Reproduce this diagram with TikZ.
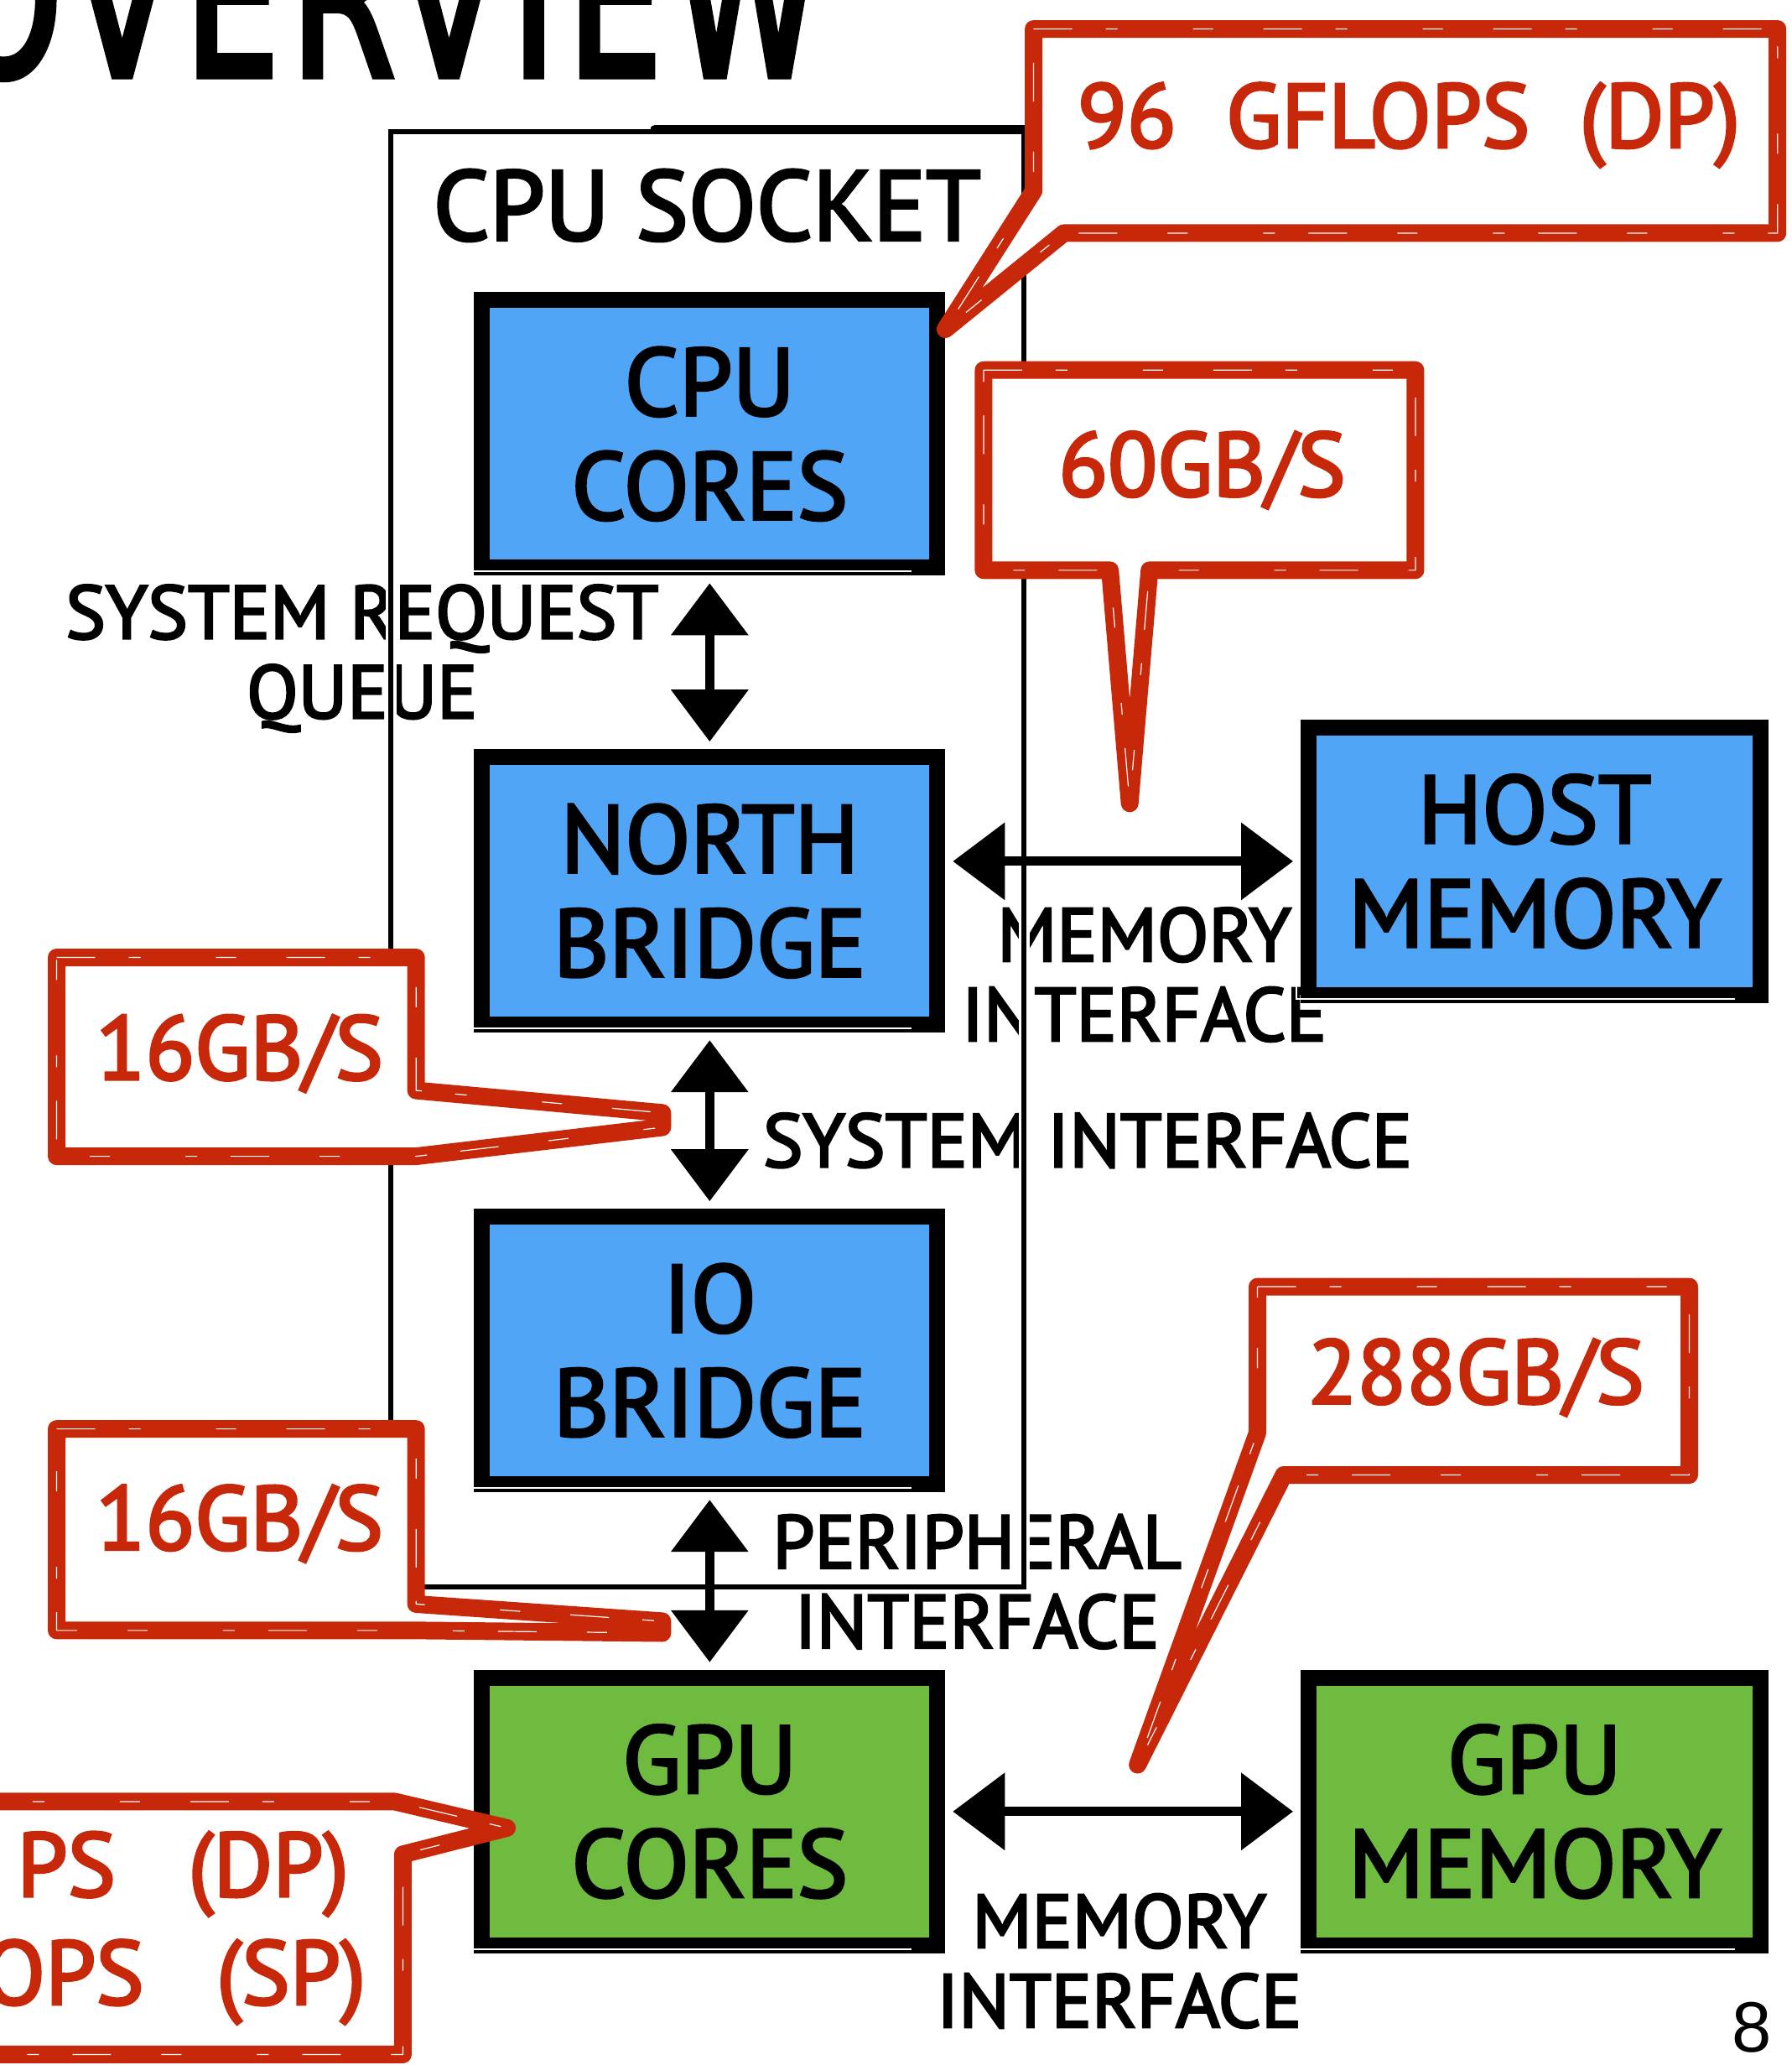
\documentclass[tikz,border=0pt]{standalone}
\usepackage{fontspec}
\usepackage{graphicx}
\setmainfont{PT Sans}[FakeBold=3]
\newfontfamily\titlefont{DejaVu Sans}[FakeBold=4,LetterSpace=8]
\newfontfamily\pagefont{Liberation Sans}
\usetikzlibrary{arrows.meta}

\definecolor{boxblue}{RGB}{80,165,247}
\definecolor{boxgreen}{RGB}{111,187,64}
\definecolor{callred}{RGB}{200,40,10}

% thin white streaks inside a block frame, for a hand-inked look
\newcommand\inkstreak[1]{%
  \draw[white,line width=1.8pt]
    ([shift={(-5pt,-14pt)}]#1.north west) -- ([shift={(-5pt,5pt)}]#1.south west)
    -- ([shift={(-40pt,5pt)}]#1.south east);}

\begin{document}
\begin{tikzpicture}[x=1.5702pt, y=-1.5702pt,
  block/.style={draw=black, line width=19pt, inner sep=0pt,
    minimum width=543pt, minimum height=319pt, align=center,
    font=\fontsize{114pt}{124pt}\selectfont},
  cpuside/.style={block, fill=boxblue},
  gpuside/.style={block, fill=boxgreen},
  lab/.style={inner sep=0pt, align=center, font=\fontsize{90pt}{95pt}\selectfont},
  redlab/.style={inner sep=0pt, text=callred, font=\fontsize{108pt}{126pt}\selectfont},
  callout/.style={draw=callred, fill=white, line width=21pt, line join=round,
    postaction={draw=white, line width=1.2pt,
      dash pattern=on 46pt off 40pt on 14pt off 90pt on 24pt off 60pt}},
  biarrow/.style={line width=11pt,
    {Triangle[length=62pt,width=90pt]}-{Triangle[length=62pt,width=90pt]},
    shorten <=9pt, shorten >=9pt},
]
\useasboundingbox (0,0) rectangle (1361,1568);
\clip (0,0) rectangle (1361,1568);

% slide title
\node[anchor=base west, inner sep=0pt] (title) at (-42,57)
  {\resizebox{1043pt}{190pt}{\titlefont OVERVIEW}};

% interface labels
\node[lab] (lsrq)  at (275,500)  {SYSTEM REQUEST\\QUEUE};
\node[lab] (lmem1) at (869,740)  {MEMORY\\INTERFACE};
\node[lab] (lsys)  at (826,866)  {SYSTEM INTERFACE};
\node[lab] (lper)  at (742,1201) {PERIPHERAL\\INTERFACE};
\node[lab] (lmem2) at (850,1489) {MEMORY\\INTERFACE};

% CPU socket outline
\node[draw=black, line width=6pt, inner sep=0pt,
      minimum width=755pt, minimum height=1735pt,
      preaction={draw=white, line width=13pt}] (socket) at (537.5,652.5) {};
\draw[line width=11pt, line cap=round] (socket.north) ++(-40,0) -- (socket.north east);
\node[inner sep=0pt, font=\fontsize{118pt}{120pt}\selectfont] (lsock) at (537,156) {CPU SOCKET};

% blocks
\node[cpuside] (cpu)  at (539,329.5)  {CPU\\CORES};
\node[cpuside] (nb)   at (539,676.5)  {NORTH\\BRIDGE};
\node[cpuside] (io)   at (539,1025.5) {IO\\BRIDGE};
\node[cpuside, minimum width=539pt] (host) at (1165.5,654) {HOST\\MEMORY};
\node[gpuside] (gpu)  at (539,1375.5) {GPU\\CORES};
\node[gpuside, minimum width=539pt] (gmem) at (1165.5,1375.5) {GPU\\MEMORY};
\foreach \b in {cpu,nb,io,host,gpu,gmem} {\inkstreak{\b}}

% connections
\draw[biarrow] (cpu.south) -- (nb.north);
\draw[biarrow] (nb.south) -- (io.north);
\draw[biarrow] (io.south) -- (gpu.north);
\draw[biarrow] (host.west -| nb.east) -- (host.west);
\draw[biarrow] (gpu.east) -- (gmem.west);

% performance callouts
\draw[callout] (785,22) -- (1350,22) -- (1350,177) -- (808,177) -- (718,250) -- (785,145) -- cycle;
\draw[callout] (747,281) -- (1075,281) -- (1075,433) -- (873,433) -- (858,610) -- (843,433) -- (747,433) -- cycle;
\draw[callout] (43,727) -- (316,727) -- (316,828) -- (503,845) -- (503,856) -- (316,878) -- (43,878) -- cycle;
\draw[callout] (43,1085) -- (316,1085) -- (316,1218) -- (503,1231) -- (503,1240) -- (316,1238) -- (43,1238) -- cycle;
\draw[callout] (955,977) -- (1283,977) -- (1283,1120) -- (975,1120) -- (864,1340) -- (955,1088) -- cycle;
\draw[callout] (-30,1368) -- (300,1368) -- (385,1388) -- (306,1408) -- (306,1560) -- (-30,1560) -- cycle;

\node[redlab] (rgflops) at (1070,95)   {96\hspace{0.55em}GFLOPS\hspace{0.55em}(DP)};
\node[redlab] (rhost)   at (913,357)   {60GB/S};
\node[redlab] (rsys)    at (182,800)   {16GB/S};
\node[redlab] (rper)    at (182,1157)  {16GB/S};
\node[redlab] (rgmem)   at (1121,1046) {288GB/S};
\node[redlab, anchor=east] (rdp) at (265,1423) {PS\hspace{0.8em}(DP)};
\node[redlab, anchor=east] (rsp) at (278,1505) {OPS\hspace{0.8em}(SP)};

% page number
\node[anchor=base east, inner sep=0pt, font=\pagefont\fontsize{85pt}{90pt}\selectfont]
  (pnum) at (1346,1558) {8};
\end{tikzpicture}
\end{document}
